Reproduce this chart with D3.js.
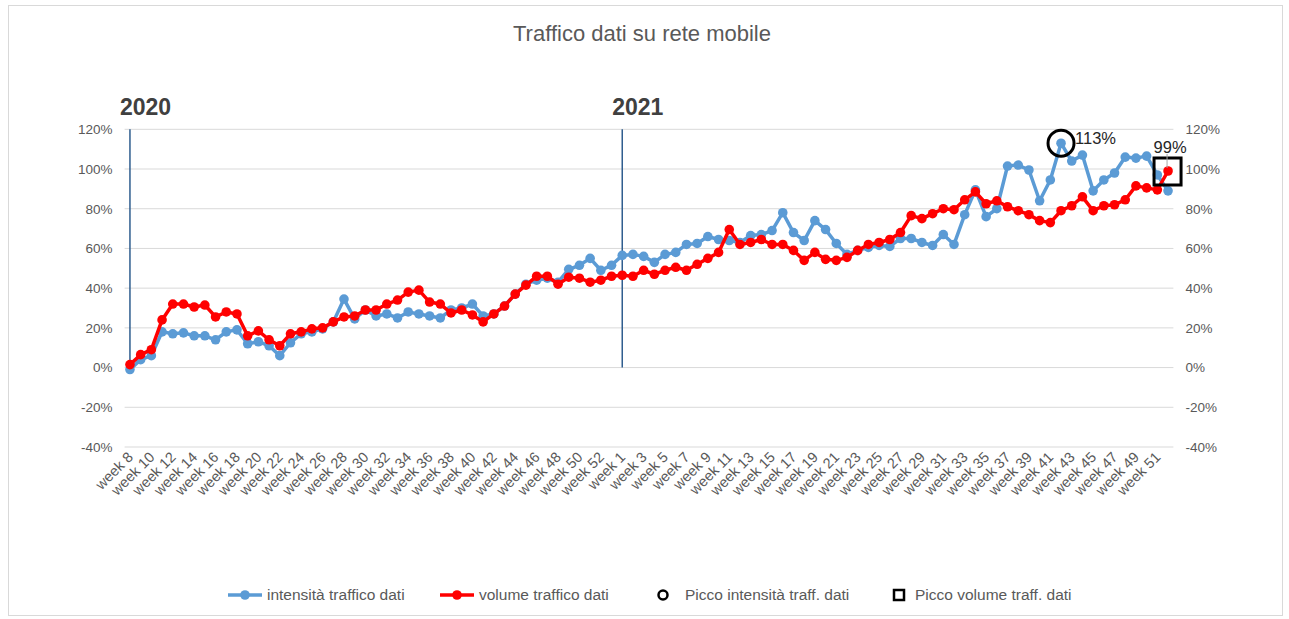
<!DOCTYPE html>
<html>
<head>
<meta charset="utf-8">
<script src="https://cdn.jsdelivr.net/npm/d3@7"></script>
<style>
  body { margin: 0; background: #fff; }
  text { font-family: "Liberation Sans", Arial, sans-serif; }
</style>
</head>
<body>
<svg width="1289" height="619"></svg>
<script>
var weeks = [
  "week 8","week 9","week 10","week 11","week 12","week 13","week 14","week 15","week 16","week 17",
  "week 18","week 19","week 20","week 21","week 22","week 23","week 24","week 25","week 26","week 27",
  "week 28","week 29","week 30","week 31","week 32","week 33","week 34","week 35","week 36","week 37",
  "week 38","week 39","week 40","week 41","week 42","week 43","week 44","week 45","week 46","week 47",
  "week 48","week 49","week 50","week 51","week 52","week 53",
  "week 1","week 2","week 3","week 4","week 5","week 6","week 7","week 8","week 9","week 10",
  "week 11","week 12","week 13","week 14","week 15","week 16","week 17","week 18","week 19","week 20",
  "week 21","week 22","week 23","week 24","week 25","week 26","week 27","week 28","week 29","week 30",
  "week 31","week 32","week 33","week 34","week 35","week 36","week 37","week 38","week 39","week 40",
  "week 41","week 42","week 43","week 44","week 45","week 46","week 47","week 48","week 49","week 50",
  "week 51","week 52"
];

// intensità traffico dati (%)
var intensita = [
  -1, 4, 6, 18, 17, 17.5, 16, 16, 14, 18,
  19, 12, 13, 11, 6, 12.5, 17, 18, 19.5, 23,
  34.5, 24.5, 29, 26, 27, 25, 28, 27, 26, 25,
  29, 30, 32, 26, 27, 31, 37, 42, 44, 45,
  43, 49.5, 51.5, 55, 49, 51.5,
  56.5, 57, 56, 53, 57, 58, 62, 62.5, 66, 64.5,
  64, 63, 66.5, 67, 69, 78, 68, 64, 74, 69.5,
  62.5, 57, 59, 60.5, 61.5, 61, 65, 65, 63, 61.5,
  67, 62, 77, 89.5, 76, 80, 101.5, 102, 99.5, 84,
  94.5, 113, 104, 107, 89, 94.5, 98, 106, 105.5, 106.5,
  97, 89
];

// volume traffico dati (%)
var volume = [
  1.5, 6.5, 9, 24, 32, 32, 30.5, 31.5, 25.5, 28,
  27, 16, 18.5, 14, 11, 17, 18, 19.5, 20, 23,
  25.5, 26, 29, 29, 32, 34, 38, 39, 33, 32,
  27.5, 29, 26.5, 23, 27, 31, 37, 41.5, 46, 46,
  42, 45.5, 45, 43, 44, 46,
  46.5, 46, 49, 47, 49, 50.5, 49, 52, 55, 58,
  69.5, 62, 63, 64.5, 62, 62, 59, 54, 58, 54.5,
  54, 55.5, 59, 62, 63, 64.5, 68, 76.5, 75, 77.5,
  80, 79.5, 84.5, 88.5, 82.5, 84, 81, 79, 77, 74,
  73, 79, 81.5, 86, 79, 81.5, 82, 84.5, 91.5, 90.5,
  89.5, 99
];

var yTicks = [-40, -20, 0, 20, 40, 60, 80, 100, 120];
var years = [{label: "2020", index: 0}, {label: "2021", index: 46}];
var peakIntensita = 87;   // week 43 2021
var peakVolume = 97;      // week 52 2021

var svg = d3.select("svg"),
  width = +svg.attr("width"),
  height = +svg.attr("height");

var blue = "#5B9BD5", red = "#FF0000", grey = "#595959";

svg.append("rect")
  .attr("x", 8.5).attr("y", 5.5)
  .attr("width", 1274).attr("height", 610)
  .attr("fill", "#fff").attr("stroke", "#D9D9D9");

var x = d3.scaleBand()
  .domain(d3.range(weeks.length))
  .range([124.6, 1173.4]);
var cx = function(i) { return x(i) + x.bandwidth() / 2; };

var y = d3.scaleLinear()
  .domain([-40, 120])
  .range([447, 129.3]);

// title
svg.append("text")
  .attr("x", 642).attr("y", 41)
  .attr("text-anchor", "middle")
  .attr("fill", grey)
  .style("font-size", "22px")
  .text("Traffico dati su rete mobile");

// gridlines
svg.append("g")
  .selectAll("line")
  .data(yTicks)
  .enter().append("line")
  .attr("x1", 124.6).attr("x2", 1173.4)
  .attr("y1", function(d) { return y(d); })
  .attr("y2", function(d) { return y(d); })
  .attr("stroke", "#D9D9D9")
  .attr("stroke-width", 1);

// left & right axes
var leftAxis = d3.axisLeft(y).tickValues(yTicks).tickSize(0).tickPadding(12)
  .tickFormat(function(d) { return d + "%"; });
var rightAxis = d3.axisRight(y).tickValues(yTicks).tickSize(0).tickPadding(12)
  .tickFormat(function(d) { return d + "%"; });

var gl = svg.append("g").attr("transform", "translate(124.6,0)").call(leftAxis);
var gr = svg.append("g").attr("transform", "translate(1173.4,0)").call(rightAxis);
[gl, gr].forEach(function(g) {
  g.select(".domain").remove();
  g.selectAll("text").attr("fill", grey).style("font-size", "13.5px");
});

// x labels, every other week
svg.append("g")
  .selectAll("text")
  .data(weeks.filter(function(d, i) { return i % 2 === 0; }))
  .enter().append("text")
  .attr("transform", function(d, k) {
    return "translate(" + (cx(k * 2) + 4) + ",458) rotate(-45)";
  })
  .attr("text-anchor", "end")
  .attr("fill", grey)
  .style("font-size", "14.5px")
  .text(function(d) { return d; });

// year separators
var yr = svg.append("g").selectAll("g").data(years).enter().append("g");
yr.append("line")
  .attr("x1", function(d) { return cx(d.index); })
  .attr("x2", function(d) { return cx(d.index); })
  .attr("y1", y(120)).attr("y2", y(0))
  .attr("stroke", "#2F5D8F").attr("stroke-width", 1.5);
yr.append("text")
  .attr("x", function(d) { return cx(d.index) - 10; })
  .attr("y", 115)
  .attr("fill", "#404040")
  .style("font-size", "23px")
  .style("font-weight", "bold")
  .text(function(d) { return d.label; });

// series
var line = d3.line()
  .x(function(d, i) { return cx(i); })
  .y(function(d) { return y(d); });

function drawSeries(values, color) {
  var g = svg.append("g");
  g.append("path")
    .datum(values)
    .attr("d", line)
    .attr("fill", "none")
    .attr("stroke", color)
    .attr("stroke-width", 3.5)
    .attr("stroke-linejoin", "round");
  g.selectAll("circle")
    .data(values)
    .enter().append("circle")
    .attr("cx", function(d, i) { return cx(i); })
    .attr("cy", function(d) { return y(d); })
    .attr("r", 4.8)
    .attr("fill", color);
}
drawSeries(intensita, blue);
drawSeries(volume, red);

// peaks
svg.append("circle")
  .attr("cx", cx(peakIntensita)).attr("cy", y(intensita[peakIntensita]))
  .attr("r", 13)
  .attr("fill", "none").attr("stroke", "#000").attr("stroke-width", 3);
svg.append("text")
  .attr("x", cx(peakIntensita) + 14).attr("y", y(intensita[peakIntensita]) + 1)
  .attr("fill", "#262626")
  .style("font-size", "16.5px")
  .text(Math.round(intensita[peakIntensita]) + "%");

svg.append("rect")
  .attr("x", cx(peakVolume) - 14).attr("y", y(volume[peakVolume]) - 13)
  .attr("width", 27).attr("height", 27)
  .attr("fill", "none").attr("stroke", "#000").attr("stroke-width", 3);
svg.append("line")
  .attr("x1", cx(peakVolume) - 1).attr("x2", cx(peakVolume) - 1)
  .attr("y1", y(volume[peakVolume]) - 17).attr("y2", y(volume[peakVolume]) - 3)
  .attr("stroke", "#A6A6A6").attr("stroke-width", 1);
svg.append("text")
  .attr("x", cx(peakVolume) + 2).attr("y", y(volume[peakVolume]) - 18)
  .attr("text-anchor", "middle")
  .attr("fill", "#262626")
  .style("font-size", "16.5px")
  .text(Math.round(volume[peakVolume]) + "%");

// legend
var legendY = 595;
var leg = svg.append("g");
[{x: 228, color: blue, label: "intensità traffico dati"},
 {x: 440, color: red, label: "volume traffico dati"}].forEach(function(d) {
  leg.append("line")
    .attr("x1", d.x).attr("x2", d.x + 34)
    .attr("y1", legendY).attr("y2", legendY)
    .attr("stroke", d.color).attr("stroke-width", 3.5);
  leg.append("circle")
    .attr("cx", d.x + 17).attr("cy", legendY).attr("r", 4.8)
    .attr("fill", d.color);
  leg.append("text")
    .attr("x", d.x + 39).attr("y", legendY + 5)
    .attr("fill", grey).style("font-size", "15.5px")
    .text(d.label);
});
leg.append("circle")
  .attr("cx", 663).attr("cy", legendY).attr("r", 4.5)
  .attr("fill", "none").attr("stroke", "#000").attr("stroke-width", 2.5);
leg.append("text")
  .attr("x", 685).attr("y", legendY + 5)
  .attr("fill", grey).style("font-size", "15.5px")
  .text("Picco intensità traff. dati");
leg.append("rect")
  .attr("x", 894).attr("y", legendY - 5).attr("width", 10).attr("height", 10)
  .attr("fill", "none").attr("stroke", "#000").attr("stroke-width", 2.5);
leg.append("text")
  .attr("x", 915).attr("y", legendY + 5)
  .attr("fill", grey).style("font-size", "15.5px")
  .text("Picco volume traff. dati");
</script>
</body>
</html>
